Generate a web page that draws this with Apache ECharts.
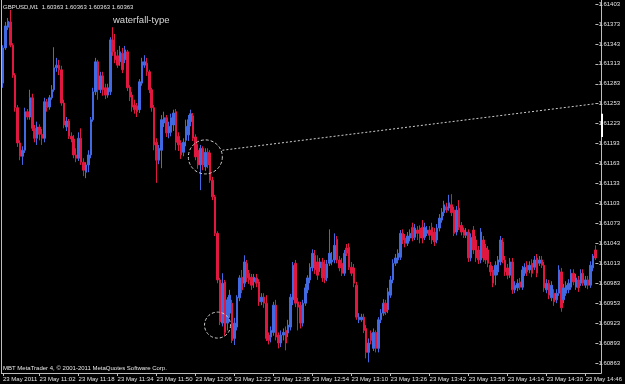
<!DOCTYPE html>
<html><head><meta charset="utf-8">
<script src="https://cdn.jsdelivr.net/npm/echarts@6/dist/echarts.min.js"></script>
<style>html,body{margin:0;padding:0;background:#000;}#c{width:625px;height:384px;}</style>
</head><body><div id="c"></div>
<script>
const symbolName = 'GBPUSD,M1';
const headerPrices = ['1.60363', '1.60363', '1.60363', '1.60363'];
const annotationText = 'waterfall-type';
const copyrightText = 'MBT MetaTrader 4, \u00a9 2001-2011 MetaQuotes Software Corp.';
const firstBarTime = '10:47';

const opens = [1.61284,1.61337,1.61368,1.61376,1.61341,1.61296,1.61247,1.61194,1.61174,1.61183,
1.61241,1.61233,1.61262,1.61216,1.61201,1.61218,1.61207,1.61201,1.61256,1.61248,
1.61262,1.61274,1.61307,1.61311,1.61304,1.61254,1.61218,1.61227,1.61204,1.61200,
1.61176,1.61171,1.61201,1.61165,1.61150,1.61161,1.61176,1.61229,1.61271,1.61316,
1.61274,1.61295,1.61277,1.61266,1.61271,1.61349,1.61331,1.61325,1.61316,1.61329,
1.61319,1.61331,1.61278,1.61266,1.61251,1.61250,1.61244,1.61284,1.61311,1.61314,
1.61301,1.61274,1.61247,1.61195,1.61168,1.61183,1.61224,1.61232,1.61209,1.61210,
1.61221,1.61241,1.61204,1.61194,1.61180,1.61198,1.61206,1.61226,1.61235,1.61203,
1.61183,1.61161,1.61186,1.61158,1.61180,1.61179,1.61138,1.61113,1.61058,1.60988,
1.60923,1.60985,1.60923,1.60938,1.60953,1.60900,1.60917,1.60961,1.60992,1.60983,
1.61013,1.60998,1.60992,1.60985,1.60991,1.60985,1.60955,1.60962,1.60953,1.60905,
1.60902,1.60909,1.60950,1.60905,1.60893,1.60905,1.60912,1.60908,1.60917,1.60958,
1.61013,1.60955,1.60950,1.60923,1.60953,1.60973,1.60988,1.61006,1.61025,1.61015,
1.61006,1.61015,1.61012,1.60991,1.61013,1.61015,1.61018,1.61049,1.61018,1.61013,
1.60998,1.61036,1.61037,1.61007,1.61006,1.60980,1.60928,1.60928,1.60932,1.60915,
1.60879,1.60908,1.60885,1.60909,1.60885,1.60928,1.60938,1.60953,1.60943,1.60965,
1.60988,1.61013,1.61018,1.61022,1.61058,1.61051,1.61043,1.61051,1.61067,1.61052,
1.61063,1.61066,1.61067,1.61052,1.61058,1.61063,1.61067,1.61060,1.61048,1.61066,
1.61078,1.61089,1.61098,1.61096,1.61101,1.61093,1.61060,1.61096,1.61070,1.61063,
1.61055,1.61060,1.61021,1.61063,1.61048,1.61033,1.61018,1.61048,1.61036,1.61033,
1.61010,1.61003,1.60995,1.61000,1.61015,1.61045,1.61018,1.61006,1.60995,1.61015,
1.60973,1.60976,1.60985,1.60977,1.60998,1.61010,1.61003,1.61013,1.61007,1.61021,
1.61013,1.61018,1.61010,1.60973,1.60983,1.60961,1.60968,1.60958,1.60968,1.61000,
1.60958,1.60968,1.60973,1.60977,1.60998,1.60977,1.60988,1.60983,1.60998,1.60980,
1.60988,1.60980,1.61006,1.61033];

const closes = [1.61337,1.61370,1.61377,1.61341,1.61296,1.61247,1.61194,1.61174,1.61183,1.61241,
1.61233,1.61262,1.61216,1.61201,1.61218,1.61207,1.61201,1.61256,1.61247,1.61262,
1.61274,1.61307,1.61311,1.61304,1.61254,1.61221,1.61227,1.61204,1.61200,1.61176,
1.61171,1.61201,1.61165,1.61153,1.61161,1.61176,1.61229,1.61271,1.61316,1.61274,
1.61295,1.61274,1.61266,1.61277,1.61349,1.61331,1.61319,1.61311,1.61331,1.61304,
1.61334,1.61277,1.61263,1.61248,1.61244,1.61241,1.61286,1.61316,1.61316,1.61301,
1.61274,1.61247,1.61191,1.61168,1.61186,1.61229,1.61232,1.61209,1.61219,1.61232,
1.61239,1.61195,1.61191,1.61176,1.61195,1.61219,1.61229,1.61238,1.61201,1.61173,
1.61161,1.61186,1.61161,1.61180,1.61161,1.61138,1.61113,1.61058,1.60988,1.60925,
1.60983,1.60909,1.60958,1.60965,1.60897,1.60923,1.60962,1.60991,1.60973,1.61015,
1.60991,1.60988,1.60980,1.60992,1.60983,1.60955,1.60962,1.60953,1.60900,1.60897,
1.60912,1.60950,1.60902,1.60893,1.60905,1.60909,1.60893,1.60920,1.60962,1.61010,
1.60953,1.60947,1.60923,1.60953,1.60976,1.60991,1.61007,1.61028,1.61003,1.60995,
1.61015,1.60991,1.60988,1.61012,1.61028,1.61018,1.61040,1.61018,1.61006,1.60998,
1.61028,1.61028,1.61007,1.60998,1.60983,1.60932,1.60932,1.60932,1.60912,1.60879,
1.60893,1.60897,1.60909,1.60885,1.60928,1.60938,1.60953,1.60940,1.60970,1.60988,
1.61013,1.61021,1.61028,1.61058,1.61048,1.61043,1.61054,1.61058,1.61051,1.61066,
1.61058,1.61051,1.61051,1.61067,1.61063,1.61055,1.61048,1.61045,1.61066,1.61081,
1.61090,1.61101,1.61093,1.61104,1.61089,1.61058,1.61093,1.61067,1.61060,1.61055,
1.61060,1.61021,1.61052,1.61033,1.61021,1.61018,1.61060,1.61021,1.61018,1.61013,
1.61000,1.60983,1.61010,1.61018,1.61048,1.61018,1.61000,1.60995,1.61015,1.60973,
1.60980,1.60983,1.60977,1.61003,1.61007,1.61000,1.61010,1.60998,1.61018,1.60998,
1.61018,1.61010,1.60976,1.60983,1.60965,1.60980,1.60955,1.60968,1.61003,1.60946,
1.60976,1.60980,1.60983,1.60998,1.60985,1.60991,1.60976,1.60998,1.60983,1.60988,
1.60980,1.61010,1.61024,1.61021];

const highs = [1.61341,1.61376,1.61382,1.61394,1.61344,1.61299,1.61251,1.61198,1.61189,1.61247,
1.61245,1.61274,1.61268,1.61221,1.61226,1.61222,1.61215,1.61262,1.61260,1.61266,
1.61281,1.61338,1.61322,1.61319,1.61310,1.61259,1.61233,1.61230,1.61210,1.61206,
1.61186,1.61210,1.61216,1.61171,1.61165,1.61183,1.61233,1.61277,1.61322,1.61319,
1.61301,1.61301,1.61283,1.61283,1.61353,1.61368,1.61358,1.61334,1.61340,1.61337,
1.61340,1.61334,1.61281,1.61271,1.61259,1.61254,1.61290,1.61322,1.61326,1.61322,
1.61304,1.61277,1.61251,1.61201,1.61191,1.61236,1.61241,1.61236,1.61226,1.61238,
1.61244,1.61245,1.61210,1.61198,1.61201,1.61229,1.61236,1.61244,1.61239,1.61207,
1.61192,1.61191,1.61189,1.61186,1.61186,1.61183,1.61143,1.61116,1.61061,1.60991,
1.60998,1.60988,1.60962,1.60973,1.60958,1.60931,1.60965,1.60995,1.61003,1.61025,
1.61018,1.61003,1.60997,1.60997,1.60997,1.60989,1.60968,1.60968,1.60965,1.60909,
1.60918,1.60955,1.60958,1.60909,1.60912,1.60915,1.60918,1.60928,1.60967,1.61015,
1.61018,1.60961,1.60955,1.60958,1.60982,1.60995,1.61013,1.61034,1.61033,1.61025,
1.61021,1.61021,1.61018,1.61018,1.61064,1.61030,1.61058,1.61054,1.61024,1.61021,
1.61033,1.61042,1.61043,1.61015,1.61012,1.60985,1.60938,1.60937,1.60937,1.60920,
1.60900,1.60912,1.60915,1.60912,1.60932,1.60944,1.60959,1.60958,1.60976,1.60994,
1.61019,1.61027,1.61034,1.61063,1.61064,1.61057,1.61060,1.61064,1.61074,1.61072,
1.61069,1.61070,1.61078,1.61074,1.61069,1.61069,1.61074,1.61066,1.61072,1.61087,
1.61096,1.61107,1.61104,1.61116,1.61117,1.61098,1.61099,1.61108,1.61075,1.61067,
1.61066,1.61064,1.61058,1.61069,1.61054,1.61039,1.61066,1.61054,1.61042,1.61039,
1.61015,1.61009,1.61016,1.61024,1.61054,1.61051,1.61024,1.61012,1.61021,1.61021,
1.60986,1.60989,1.60991,1.61009,1.61013,1.61016,1.61016,1.61019,1.61024,1.61027,
1.61024,1.61024,1.61015,1.60989,1.60988,1.60986,1.60974,1.60974,1.61010,1.61006,
1.60982,1.60986,1.60989,1.61004,1.61004,1.60997,1.60994,1.61004,1.61004,1.60994,
1.60994,1.61016,1.61027,1.61040];

const lows = [1.61277,1.61334,1.61364,1.61338,1.61292,1.61241,1.61188,1.61168,1.61161,1.61179,
1.61229,1.61229,1.61212,1.61195,1.61191,1.61198,1.61191,1.61195,1.61241,1.61244,
1.61259,1.61271,1.61301,1.61296,1.61250,1.61216,1.61212,1.61200,1.61195,1.61171,
1.61165,1.61167,1.61161,1.61144,1.61141,1.61150,1.61171,1.61226,1.61266,1.61259,
1.61269,1.61265,1.61260,1.61262,1.61266,1.61325,1.61314,1.61307,1.61310,1.61299,
1.61314,1.61272,1.61257,1.61241,1.61238,1.61233,1.61239,1.61280,1.61307,1.61295,
1.61269,1.61241,1.61183,1.61134,1.61162,1.61156,1.61218,1.61203,1.61201,1.61204,
1.61212,1.61183,1.61182,1.61170,1.61174,1.61189,1.61197,1.61219,1.61197,1.61168,
1.61155,1.61123,1.61153,1.61152,1.61156,1.61134,1.61108,1.61054,1.60983,1.60920,
1.60918,1.60904,1.60912,1.60931,1.60893,1.60890,1.60912,1.60956,1.60968,1.60977,
1.60985,1.60982,1.60973,1.60976,1.60977,1.60949,1.60950,1.60946,1.60896,1.60891,
1.60894,1.60904,1.60897,1.60885,1.60887,1.60897,1.60882,1.60902,1.60912,1.60950,
1.60947,1.60912,1.60915,1.60918,1.60949,1.60968,1.60983,1.61001,1.60997,1.60988,
1.61000,1.60985,1.60983,1.60986,1.61009,1.61010,1.61013,1.61013,1.61001,1.60994,
1.60994,1.61024,1.61003,1.60994,1.60977,1.60928,1.60923,1.60925,1.60908,1.60870,
1.60864,1.60891,1.60881,1.60879,1.60879,1.60923,1.60934,1.60935,1.60938,1.60961,
1.60983,1.61009,1.61013,1.61018,1.61042,1.61037,1.61039,1.61046,1.61046,1.61048,
1.61048,1.61043,1.61043,1.61048,1.61054,1.61048,1.61042,1.61039,1.61043,1.61061,
1.61074,1.61084,1.61089,1.61092,1.61084,1.61054,1.61055,1.61063,1.61055,1.61051,
1.61051,1.61015,1.61016,1.61027,1.61015,1.61012,1.61013,1.61015,1.61012,1.61007,
1.60994,1.60977,1.60980,1.60995,1.61010,1.61013,1.60994,1.60989,1.60991,1.60967,
1.60968,1.60971,1.60973,1.60973,1.60994,1.60994,1.60998,1.60992,1.61003,1.60992,
1.61009,1.61006,1.60970,1.60968,1.60959,1.60956,1.60949,1.60953,1.60964,1.60940,
1.60953,1.60964,1.60968,1.60973,1.60980,1.60973,1.60970,1.60979,1.60979,1.60976,
1.60974,1.60976,1.61001,1.61018];

const tickLabels = ['23 May 2011','23 May 11:02','23 May 11:18','23 May 11:34','23 May 11:50',
'23 May 12:06','23 May 12:22','23 May 12:38','23 May 12:54','23 May 13:10','23 May 13:26',
'23 May 13:42','23 May 13:58','23 May 14:14','23 May 14:30','23 May 14:46'];

const priceMin = 1.60863, priceMax = 1.61403, priceStep = 0.0003;

// trendline and circle annotations (bar index, price)
const trendFrom = [90, 1.61183], trendTo = [243, 1.61253];
const circleMarks = [[83, 1.61173, 34], [88, 1.60920, 26]];
// marker on the price scale (price range)
const scaleMarker = [1.61238, 1.61203];

// categories: one per minute bar
const times = [];
{
  let [h, m] = firstBarTime.split(':').map(Number);
  for (let i = 0; i < opens.length; i++) {
    times.push(String(h).padStart(2, '0') + ':' + String(m).padStart(2, '0'));
    m++; if (m === 60) { m = 0; h++; }
  }
}
const labelMap = new Map();
tickLabels.forEach((t, i) => {
  const key = i === 0 ? times[0] : t.slice(7);
  labelMap.set(key, t);
});

const candles = opens.map((o, i) => [o, closes[i], lows[i], highs[i]]);

const bull = '#4169e1', bear = '#e0173f';
const txt = '#e6e6e6', axisCol = '#bdbdbd';
const FONT = '"Liberation Sans", Arial, sans-serif';

function priceLabel(v) {
  const k = Math.round((v - priceMin) / priceStep);
  const pts = Math.round(priceMin * 1e5) + k * Math.round(priceStep * 1e5);
  return (pts / 1e5).toFixed(5);
}

const chart = echarts.init(document.getElementById('c'), null, {renderer: 'canvas'});
chart.setOption({
  animation: false,
  backgroundColor: '#000',
  grid: {left: 3, right: 24, top: 4, bottom: 21},
  xAxis: {
    type: 'category', data: times, boundaryGap: false, offset: 10,
    axisLine: {show: false},
    axisTick: {show: true, length: 3, interval: (i, v) => labelMap.has(v), lineStyle: {color: axisCol}},
    axisLabel: {interval: (i, v) => labelMap.has(v), formatter: v => labelMap.get(v) || '',
      align: 'left', margin: 3, color: txt, fontSize: 6, fontFamily: FONT, showMaxLabel: true},
    splitLine: {show: false}
  },
  yAxis: {
    type: 'value', position: 'right', min: priceMin, max: priceMax, interval: priceStep,
    axisLine: {show: false},
    axisTick: {show: true, length: 3, lineStyle: {color: axisCol}},
    axisLabel: {formatter: priceLabel, margin: 3, color: txt, fontSize: 6, fontFamily: FONT},
    splitLine: {show: false}
  },
  series: [{
    type: 'candlestick', data: candles, barWidth: 2, clip: false,
    itemStyle: {color: bull, color0: bear, borderColor: bull, borderColor0: bear, borderWidth: 1},
    emphasis: {disabled: true},
    markLine: {
      silent: true, symbol: ['none', 'none'], label: {show: false},
      lineStyle: {color: '#cfcfcf', width: 1, type: [2, 2]},
      data: [[{coord: [times[trendFrom[0]], trendFrom[1]]}, {coord: [times[trendTo[0]], trendTo[1]]}]]
    },
    markPoint: {
      silent: true, symbol: 'circle', label: {show: false},
      itemStyle: {color: 'rgba(0,0,0,0)', borderColor: '#cfcfcf', borderWidth: 1, borderType: [3, 2]},
      data: circleMarks.map(c => ({coord: [times[c[0]], c[1]], symbolSize: c[2]}))
    }
  }],
  graphic: [
    {type: 'line', shape: {x1: 1.5, y1: 0, x2: 1.5, y2: 373.5}, style: {stroke: axisCol, lineWidth: 1}, silent: true},
    {type: 'line', shape: {x1: 601.5, y1: 0, x2: 601.5, y2: 373.5}, style: {stroke: axisCol, lineWidth: 1}, silent: true},
    {type: 'line', shape: {x1: 1, y1: 373.5, x2: 601.5, y2: 373.5}, style: {stroke: axisCol, lineWidth: 1}, silent: true},
    {type: 'text', x: 3, y: 7, style: {text: symbolName + '  ' + headerPrices.join(' '), fill: txt, font: '6px ' + FONT, verticalAlign: 'middle'}, silent: true},
    {type: 'text', x: 113, y: 20, style: {text: annotationText, fill: '#d8d8d8', font: '9.5px ' + FONT, verticalAlign: 'middle'}, silent: true},
    {type: 'text', x: 3, y: 368, style: {text: copyrightText, fill: txt, font: '6px ' + FONT, verticalAlign: 'middle'}, silent: true}
  ]
});

// small marker block on the price scale, positioned through the axis scale
const yTop = chart.convertToPixel({yAxisIndex: 0}, scaleMarker[0]);
const yBot = chart.convertToPixel({yAxisIndex: 0}, scaleMarker[1]);
chart.setOption({graphic: [{type: 'rect', id: 'scaleMark', shape: {x: 601, y: yTop, width: 2, height: yBot - yTop}, style: {fill: '#ffffff'}, silent: true}]});
</script></body></html>
